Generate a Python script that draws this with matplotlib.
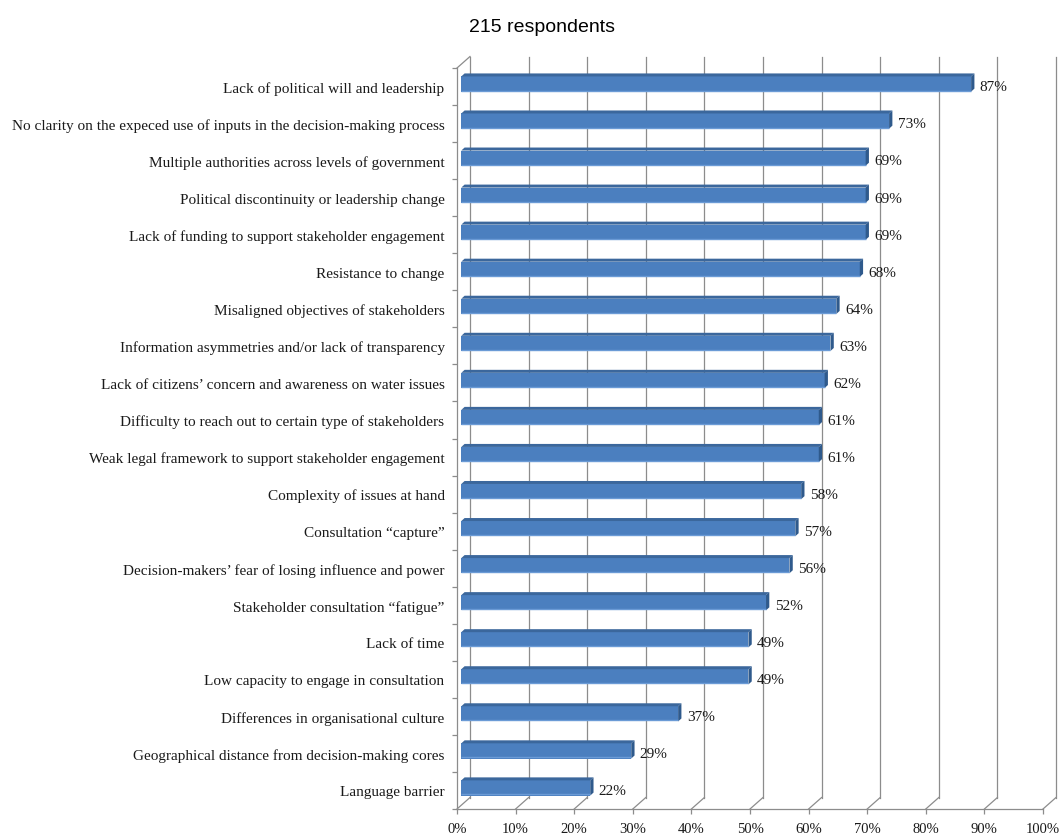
import numpy as np
import matplotlib
matplotlib.use("Agg")
import matplotlib.pyplot as plt
from matplotlib.patches import Polygon

categories = [
    "Lack of political will and leadership",
    "No clarity on the expeced use of inputs in the decision-making process",
    "Multiple authorities across levels of government",
    "Political discontinuity or leadership change",
    "Lack of funding to support stakeholder engagement",
    "Resistance to change",
    "Misaligned objectives of stakeholders",
    "Information asymmetries and/or lack of transparency",
    "Lack of citizens\u2019 concern and awareness on water issues",
    "Difficulty to reach out to certain type of stakeholders",
    "Weak legal framework to support stakeholder engagement",
    "Complexity of issues at hand",
    "Consultation \u201ccapture\u201d",
    "Decision-makers\u2019 fear of losing influence and power",
    "Stakeholder consultation \u201cfatigue\u201d",
    "Lack of time",
    "Low capacity to engage in consultation",
    "Differences in organisational culture",
    "Geographical distance from decision-making cores",
    "Language barrier",
]
values = [87, 73, 69, 69, 69, 68, 64, 63, 62, 61, 61, 58, 57, 56, 52, 49, 49, 37, 29, 22]
x_ticks = list(range(0, 101, 10))
x_tick_labels = [f"{t}%" for t in x_ticks]
title = "215 respondents"

W, H, DPI = 1059, 837, 100
fig = plt.figure(figsize=(W / DPI, H / DPI), dpi=DPI)

n = len(categories)
y = np.arange(n)

# axes placement (pixels): x=0 at 457, 5.86 px per percent; rows 37.05 px apart
px_per_x = 5.86
px_per_row = 37.05
xlim = (0, 102.5)
ylim = (n - 0.5, -1.0)
left_px, bottom_px = 457, 810
width_px = (xlim[1] - xlim[0]) * px_per_x
height_px = (ylim[0] - ylim[1]) * px_per_row
ax = fig.add_axes([left_px / W, (H - bottom_px) / H, width_px / W, height_px / H])
ax.set_xlim(*xlim)
ax.set_ylim(*ylim)

# depth of the 3-D box in data units
DX = 13 / px_per_x
DY = 11.5 / px_per_row
# bar front face offset into the depth, and bar thickness in depth
bx1, by1 = 4.3 / px_per_x, 2.5 / px_per_row
bdx, bdy = 3.3 / px_per_x, 3.0 / px_per_row
bar_h = 0.41

grid_col = "#8c8c8c"
lw = 0.9

# back-wall gridlines and floor diagonals
for t in x_ticks:
    ax.plot([t + DX, t + DX], [n - 0.5 - DY, -0.5 - DY], color=grid_col, lw=lw,
            clip_on=False, zorder=1)
    ax.plot([t, t + DX], [n - 0.5, n - 0.5 - DY], color=grid_col, lw=lw,
            clip_on=False, zorder=1)
# top edge of the left wall
ax.plot([0, DX], [-0.5, -0.5 - DY], color=grid_col, lw=lw, clip_on=False, zorder=1)

# bars: front faces
front_col = "#4b7fbf"
top_col = "#3b679c"
end_col = "#2f5a8c"
ax.barh(y - by1, values, left=bx1, height=bar_h, color=front_col,
        edgecolor="none", zorder=3)
for yi, v in zip(y, values):
    yc = yi - by1
    top = yc - bar_h / 2
    bot = yc + bar_h / 2
    x0 = bx1
    x1 = v + bx1
    ax.add_patch(Polygon([(x0, top), (x1, top), (x1 + bdx, top - bdy), (x0 + bdx, top - bdy)],
                         closed=True, facecolor=top_col, edgecolor="none", zorder=3))
    ax.add_patch(Polygon([(x1, top), (x1 + bdx, top - bdy), (x1 + bdx, bot - bdy), (x1, bot)],
                         closed=True, facecolor=end_col, edgecolor="none", zorder=3))
    # lighter lower edge of the front face
    ax.plot([x0, x1], [bot - 0.03, bot - 0.03], color="#6b9bd6", lw=1.0, zorder=4,
            solid_capstyle="butt")
    ax.text(x1 + bdx + 0.9, yi + 0.01, f"{v}%", ha="left", va="center",
            fontsize=11, family="Liberation Serif", color="#1a1a1a", zorder=5)

# axes: left wall front edge and floor front edge
for s in ("top", "right"):
    ax.spines[s].set_visible(False)
ax.spines["left"].set_color(grid_col)
ax.spines["left"].set_linewidth(lw)
ax.spines["left"].set_bounds(-0.5, n - 0.5)
ax.spines["bottom"].set_color(grid_col)
ax.spines["bottom"].set_linewidth(lw)
ax.spines["bottom"].set_bounds(0, 100)
ax.spines["left"].set_zorder(2)
ax.spines["bottom"].set_zorder(2)

ax.set_yticks(y)
ax.set_yticklabels(categories, fontsize=11, family="Liberation Serif", color="#1a1a1a")
ax.set_yticks(np.arange(n + 1) - 0.5, minor=True)
ax.tick_params(axis="y", which="major", length=0, pad=9)
ax.tick_params(axis="y", which="minor", length=3.8, width=lw, color=grid_col, direction="out")

ax.set_xticks(x_ticks)
ax.set_xticklabels(x_tick_labels, fontsize=10.5, family="Liberation Serif", color="#1a1a1a")
ax.tick_params(axis="x", which="major", length=3.8, width=lw, color=grid_col, pad=5.5)

fig.text(542 / W, 1 - 27 / H, title, ha="center", va="center", fontsize=14,
         family="Liberation Sans", color="black")

fig.savefig("out.png", dpi=DPI)
